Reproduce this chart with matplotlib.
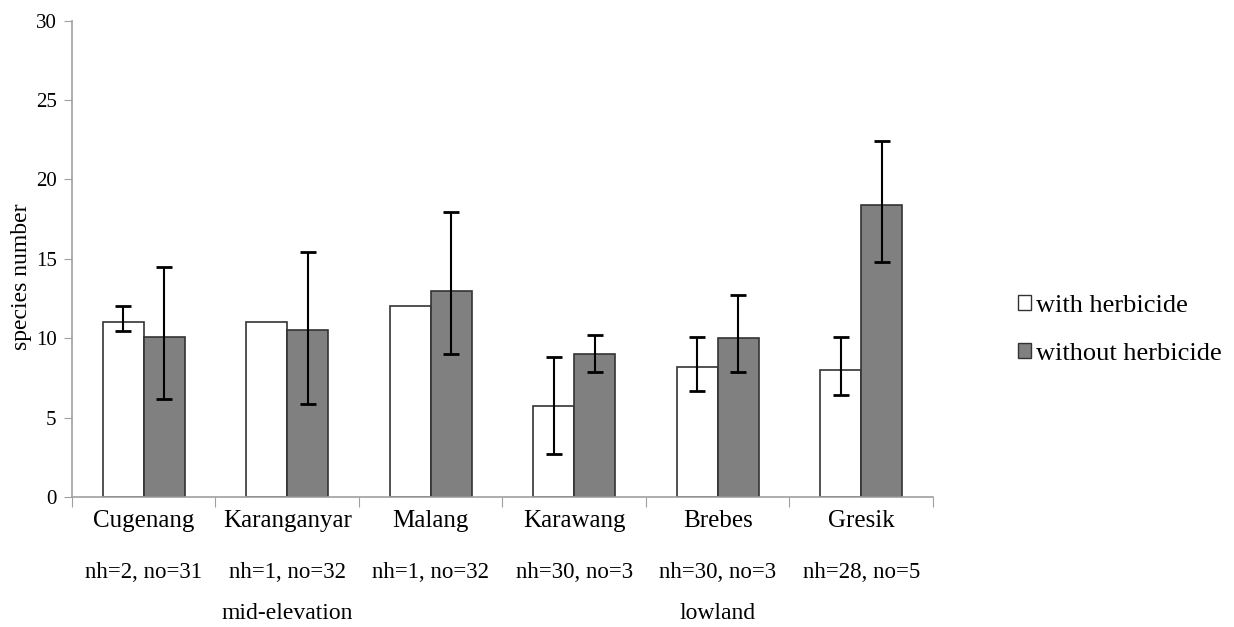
import matplotlib
matplotlib.use("Agg")
import matplotlib.pyplot as plt
import numpy as np
from matplotlib.patches import Patch

plt.rcParams['font.family'] = ['Liberation Serif', 'DejaVu Serif']

sites = ['Cugenang', 'Karanganyar', 'Malang', 'Karawang', 'Brebes', 'Gresik']
counts = ['nh=2, no=31', 'nh=1, no=32', 'nh=1, no=32', 'nh=30, no=3', 'nh=30, no=3', 'nh=28, no=5']
zones = ['mid-elevation', 'lowland']
zone_center = [1.5, 4.5]   # middle of each group of three sites

with_h = [11.0, 11.0, 12.0, 5.75, 8.2, 8.0]
with_lo = [10.45, np.nan, np.nan, 2.7, 6.7, 6.4]
with_hi = [12.0, np.nan, np.nan, 8.85, 10.05, 10.1]

without_h = [10.1, 10.5, 13.0, 9.0, 10.0, 18.4]
without_lo = [6.2, 5.85, 9.0, 7.85, 7.85, 14.8]
without_hi = [14.5, 15.45, 17.95, 10.2, 12.7, 22.45]

fig = plt.figure(figsize=(12.34, 6.27), dpi=100)
ax = fig.add_axes([0.0583, 0.2073, 0.6977, 0.7597])

x = np.arange(len(sites)) + 0.5
w = 0.286

def err(v, lo, hi):
    v = np.array(v); lo = np.array(lo); hi = np.array(hi)
    return [v - lo, hi - v]

ax.bar(x - w / 2, with_h, w, color='white', edgecolor='#333333', linewidth=1.2, zorder=2)
ax.bar(x + w / 2, without_h, w, color='#808080', edgecolor='#333333', linewidth=1.2, zorder=2)
ax.errorbar(x - w / 2, with_h, yerr=err(with_h, with_lo, with_hi), fmt='none',
            ecolor='black', elinewidth=1.5, capsize=5.8, capthick=2, zorder=3)
ax.errorbar(x + w / 2, without_h, yerr=err(without_h, without_lo, without_hi), fmt='none',
            ecolor='black', elinewidth=1.5, capsize=5.8, capthick=2, zorder=3)

ax.set_xlim(0, 6)
ax.set_ylim(0, 30)
ax.set_yticks(np.arange(0, 31, 5))
ax.set_xticks(np.arange(0, 7))
ax.set_xticklabels([])
ax.tick_params(axis='y', labelsize=15, length=6, color='#a0a0a0', pad=5)
ax.tick_params(axis='x', length=7, color='#a0a0a0')
for s in ['top', 'right']:
    ax.spines[s].set_visible(False)
for s in ['left', 'bottom']:
    ax.spines[s].set_color('#a0a0a0')
    ax.spines[s].set_linewidth(1.2)
ax.set_ylabel('species number', fontsize=17)
ax.yaxis.set_label_coords(-0.046, 0.462)

for xi, name, cnt in zip(x, sites, counts):
    ax.annotate(name, xy=(xi, 0), xycoords=('data', 'axes fraction'),
                xytext=(0, -17.5), textcoords='offset points',
                ha='center', va='center', fontsize=18)
    ax.annotate(cnt, xy=(xi, 0), xycoords=('data', 'axes fraction'),
                xytext=(0, -54), textcoords='offset points',
                ha='center', va='center', fontsize=16.5)
for xc, z in zip(zone_center, zones):
    ax.annotate(z, xy=(xc, 0), xycoords=('data', 'axes fraction'),
                xytext=(0, -84), textcoords='offset points',
                ha='center', va='center', fontsize=17)

handles = [Patch(facecolor='white', edgecolor='#333333', label='with herbicide'),
           Patch(facecolor='#808080', edgecolor='#333333', label='without herbicide')]
fig.legend(handles=handles, loc='center left', bbox_to_anchor=(1018 / 1234, 0.474),
           frameon=False, fontsize=19, handlelength=0.5, handleheight=0.5,
           handletextpad=0.2, labelspacing=0.98, borderpad=0, borderaxespad=0)

fig.savefig('out.png', dpi=100)
